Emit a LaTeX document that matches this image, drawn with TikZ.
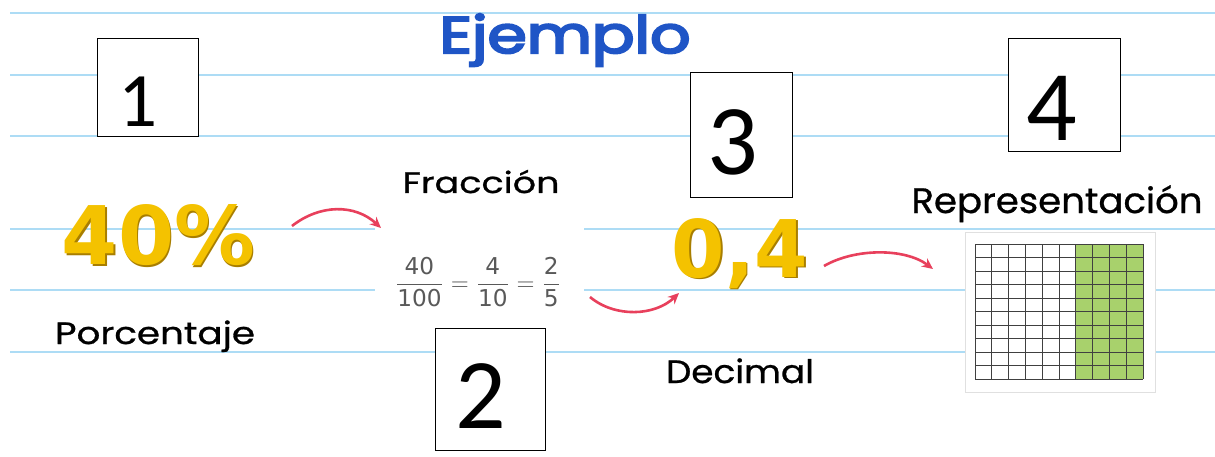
\documentclass[tikz,border=0pt]{standalone}
\usepackage{fontspec}
\usetikzlibrary{arrows.meta}
\newfontfamily\popfont[FakeBold=0.8]{Poppins}
\newfontfamily\poptitle[FakeBold=4]{Poppins}
\newfontfamily\calfont{Carlito}
\newfontfamily\dejafont{DejaVu Sans}
\definecolor{ruleblue}{HTML}{ADDCF5}
\definecolor{titleblue}{HTML}{1F55C6}
\definecolor{gold}{HTML}{F4C200}
\definecolor{golddark}{HTML}{A87E00}
\definecolor{arrowred}{HTML}{E8405C}
\definecolor{cellgreen}{HTML}{A8D16C}
\newcommand{\capbox}[3]{\resizebox{#1}{#2}{\smash{#3}\vphantom{E}}}
\begin{document}
\begin{tikzpicture}[x=1pt,y=-1pt,
  rule/.style={draw=ruleblue,line width=1.6pt},
  numbox/.style={draw=black,line width=1.2pt,fill=white,inner sep=0pt,anchor=north west},
  digit/.style={anchor=base,inner sep=0pt,font=\calfont\fontsize{100}{100}\selectfont},
  lbl/.style={anchor=base,inner sep=0pt,text=black},
  goldtxt/.style={anchor=base,inner sep=0pt,text=gold},
  goldshade/.style={anchor=base,inner sep=0pt,text=golddark},
  gridline/.style={draw=black!75,line width=1pt},
  curvearrow/.style={draw=arrowred,line width=2.6pt,-{Stealth[length=11pt,width=10pt]}},
]
\useasboundingbox (0,0) rectangle (1215,457);
\fill[white] (0,0) rectangle (1215,457);
% ruled lines
\foreach \yy in {13,75,136,229,290,352} \draw[rule] (10,\yy) -- (1215,\yy);
% image backdrops
\node[fill=white,inner sep=0pt,minimum width=209pt,minimum height=146pt,anchor=north west] (fracimg) at (375,200) {};
\node[fill=white,draw=black!12,line width=0.8pt,inner sep=0pt,minimum width=190pt,minimum height=160pt,anchor=north west] (gridimg) at (965,232) {};
% grid 10x10
\fill[cellgreen] (1075.8,244) rectangle (1143,379);
\foreach \i in {0,...,10} \draw[gridline] ({975+16.8*\i},244) -- ({975+16.8*\i},379);
\foreach \j in {0,...,10} \draw[gridline] (975,{244+13.5*\j}) -- (1143,{244+13.5*\j});
% numbered boxes
\node[numbox,minimum width=101pt,minimum height=98pt] (b1) at (97,38) {};
\node[numbox,minimum width=110pt,minimum height=122pt] (b2) at (435,328) {};
\node[numbox,minimum width=102pt,minimum height=125pt] (b3) at (690,72) {};
\node[numbox,minimum width=112pt,minimum height=113pt] (b4) at (1008,38) {};
\node[digit,font=\calfont\fontsize{77}{77}\selectfont] (d1) at (138,127) {1};
\node[digit] (d2) at (481,428) {2};
\node[digit] (d3) at (733,175) {3};
\node[digit] (d4) at (1052,141) {4};
% title and labels
\node[lbl,text=titleblue] (title) at (565,53) {\capbox{251pt}{35pt}{\poptitle Ejemplo}};
\node[lbl] (fraclbl) at (481,193) {\capbox{157pt}{20pt}{\popfont Fracción}};
\node[lbl] (porc) at (155,344) {\capbox{200pt}{21pt}{\popfont Porcentaje}};
\node[lbl] (deci) at (740,383) {\capbox{148pt}{22pt}{\popfont Decimal}};
\node[lbl] (repr) at (1057,213) {\capbox{291pt}{24pt}{\popfont Representación}};
% gold numbers
\node[goldshade] (pctshade) at (160,266) {\resizebox{193pt}{60pt}{\dejafont\bfseries 40\%}};
\node[goldtxt] (pct) at (158.5,264.5) {\resizebox{193pt}{60pt}{\dejafont\bfseries 40\%}};
\node[goldshade] (decshade) at (741.5,278.5) {\resizebox{136pt}{59pt}{\dejafont\bfseries 0,4}};
\node[goldtxt] (dec) at (740,277) {\resizebox{136pt}{59pt}{\dejafont\bfseries 0,4}};
% fraction
\node[inner sep=0pt,text=black!65] (frac) at (478,282) {\resizebox{167pt}{!}{$\displaystyle\frac{\mbox{\dejafont 40}}{\mbox{\dejafont 100}}=\frac{\mbox{\dejafont 4}}{\mbox{\dejafont 10}}=\frac{\mbox{\dejafont 2}}{\mbox{\dejafont 5}}$}};
% arrows
\coordinate (a1s) at (292,226);
\coordinate (a1e) at (381,228);
\coordinate (a2s) at (590,297);
\coordinate (a2e) at (679,293);
\coordinate (a3s) at (824,266);
\coordinate (a3e) at (933,269);
\draw[curvearrow] (a1s) .. controls (320,204) and (355,204) .. (a1e);
\draw[curvearrow] (a2s) .. controls (615,318) and (655,316) .. (a2e);
\draw[curvearrow] (a3s) .. controls (855,248) and (905,248) .. (a3e);
\end{tikzpicture}
\end{document}
